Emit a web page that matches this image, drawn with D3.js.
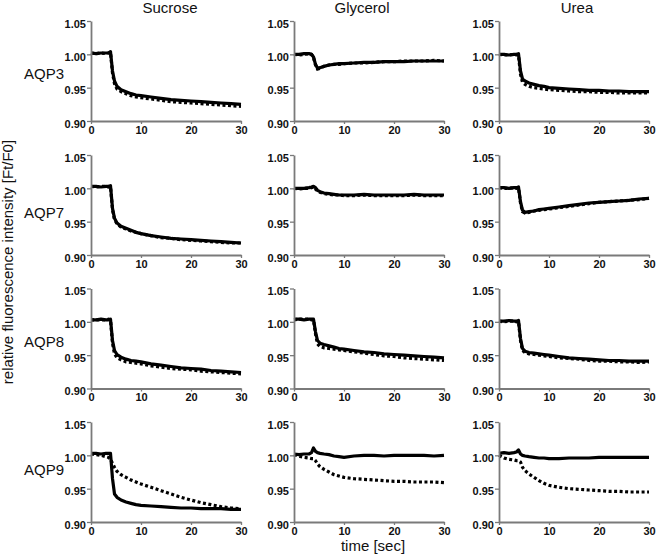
<!DOCTYPE html>
<html>
<head>
<meta charset="utf-8">
<script src="https://cdn.jsdelivr.net/npm/d3@7/dist/d3.min.js"></script>
<style>
  html, body { margin: 0; padding: 0; background: #fff; }
  svg { display: block; font-family: "Liberation Sans", Arial, sans-serif; }
</style>
</head>
<body>
<svg id="chart" width="656" height="557"></svg>
<script>
// ---------------- data ----------------
const solutes = ["Sucrose", "Glycerol", "Urea"];
const aqps = ["AQP3", "AQP7", "AQP8", "AQP9"];
const yTicks = [0.90, 0.95, 1.00, 1.05];
const xTicks = [0, 10, 20, 30];
const time = [0,1,2,3,3.5,3.9,4.3,4.7,5.2,6,7,8,9,10,12,14,16,18,20,22,24,26,28,30];

// AQP3
const aqp3SucroseSolid  = [1.002,1.001,1.002,1.002,1.002,1.004,0.975,0.960,0.952,0.947,0.944,0.941,0.939,0.938,0.936,0.934,0.932,0.931,0.930,0.929,0.928,0.927,0.926,0.925];
const aqp3SucroseDashed = [1.002,1.001,1.002,1.001,1.002,1.003,0.972,0.956,0.948,0.944,0.941,0.938,0.936,0.935,0.933,0.931,0.929,0.928,0.927,0.926,0.925,0.924,0.923,0.922];
const aqp3GlycerolSolid  = [1.000,1.000,1.001,1.001,1.000,0.996,0.985,0.979,0.980,0.982,0.984,0.985,0.986,0.986,0.987,0.988,0.988,0.989,0.989,0.989,0.990,0.990,0.990,0.990];
const aqp3GlycerolDashed = [1.000,0.999,1.000,1.001,1.000,0.995,0.984,0.978,0.979,0.982,0.984,0.985,0.985,0.986,0.987,0.987,0.988,0.989,0.989,0.990,0.990,0.990,0.991,0.990];
const aqp3UreaSolid  = [1.000,1.000,0.999,1.000,1.000,1.001,0.975,0.963,0.960,0.957,0.955,0.953,0.952,0.950,0.949,0.948,0.947,0.946,0.946,0.945,0.945,0.944,0.944,0.944];
const aqp3UreaDashed = [1.000,0.999,0.999,1.000,0.999,0.999,0.970,0.958,0.955,0.952,0.950,0.949,0.948,0.947,0.946,0.945,0.944,0.944,0.943,0.943,0.942,0.942,0.942,0.942];
// AQP7
const aqp7SucroseSolid  = [1.003,1.003,1.002,1.003,1.003,1.004,0.970,0.955,0.948,0.943,0.940,0.937,0.934,0.932,0.929,0.927,0.925,0.924,0.923,0.922,0.921,0.920,0.919,0.918];
const aqp7SucroseDashed = [1.003,1.002,1.003,1.003,1.002,1.003,0.968,0.953,0.947,0.942,0.939,0.936,0.934,0.932,0.929,0.926,0.925,0.923,0.922,0.921,0.920,0.919,0.918,0.918];
const aqp7GlycerolSolid  = [1.000,1.000,1.000,1.001,1.002,1.003,1.001,0.997,0.995,0.993,0.992,0.991,0.990,0.990,0.990,0.991,0.990,0.990,0.990,0.990,0.991,0.990,0.990,0.990];
const aqp7GlycerolDashed = [1.000,0.999,1.000,1.000,1.001,1.002,0.999,0.996,0.994,0.992,0.991,0.990,0.990,0.989,0.989,0.990,0.989,0.989,0.989,0.989,0.990,0.989,0.989,0.989];
const aqp7UreaSolid  = [1.001,1.001,1.000,1.001,1.001,1.002,0.980,0.967,0.964,0.965,0.966,0.968,0.969,0.970,0.972,0.974,0.976,0.978,0.979,0.980,0.981,0.982,0.984,0.985];
const aqp7UreaDashed = [1.001,1.000,1.000,1.001,1.000,1.001,0.978,0.965,0.963,0.964,0.966,0.967,0.968,0.969,0.971,0.973,0.975,0.977,0.979,0.980,0.981,0.982,0.983,0.985];
// AQP8
const aqp8SucroseSolid  = [1.003,1.003,1.004,1.003,1.003,1.004,0.972,0.957,0.951,0.947,0.944,0.942,0.941,0.940,0.937,0.935,0.933,0.931,0.930,0.929,0.927,0.926,0.925,0.924];
const aqp8SucroseDashed = [1.003,1.003,1.003,1.003,1.004,1.003,0.968,0.952,0.946,0.943,0.940,0.939,0.938,0.937,0.934,0.932,0.930,0.929,0.928,0.926,0.925,0.924,0.923,0.922];
const aqp8GlycerolSolid  = [1.004,1.004,1.003,1.004,1.004,1.004,0.985,0.972,0.968,0.966,0.964,0.962,0.960,0.959,0.957,0.955,0.954,0.952,0.951,0.950,0.949,0.948,0.947,0.946];
const aqp8GlycerolDashed = [1.003,1.004,1.004,1.004,1.003,1.003,0.982,0.967,0.963,0.961,0.960,0.959,0.958,0.957,0.955,0.953,0.951,0.949,0.948,0.946,0.945,0.944,0.943,0.942];
const aqp8UreaSolid  = [1.001,1.001,1.002,1.001,1.001,1.002,0.975,0.960,0.956,0.954,0.953,0.952,0.951,0.950,0.948,0.946,0.945,0.944,0.943,0.942,0.942,0.941,0.941,0.941];
const aqp8UreaDashed = [1.001,1.000,1.001,1.001,1.000,1.001,0.972,0.957,0.954,0.952,0.951,0.950,0.949,0.948,0.946,0.945,0.944,0.942,0.941,0.941,0.940,0.940,0.939,0.940];
// AQP9
const aqp9SucroseSolid  = [1.003,1.003,1.002,1.003,1.003,1.003,0.965,0.942,0.937,0.933,0.930,0.928,0.926,0.925,0.924,0.923,0.922,0.921,0.921,0.920,0.920,0.920,0.919,0.919];
const aqp9SucroseDashed = [1.002,1.001,1.000,0.998,0.997,0.994,0.988,0.982,0.976,0.971,0.967,0.963,0.960,0.957,0.952,0.947,0.942,0.937,0.933,0.929,0.926,0.923,0.921,0.920];
const aqp9GlycerolSolid  = [1.002,1.001,1.002,1.002,1.004,1.011,1.006,1.004,1.003,1.002,1.001,0.999,0.998,0.997,0.999,1.000,1.000,0.999,1.000,1.000,1.000,1.000,0.999,1.000];
const aqp9GlycerolDashed = [1.001,0.999,0.997,0.996,0.995,0.995,0.992,0.987,0.983,0.979,0.975,0.971,0.969,0.967,0.965,0.964,0.963,0.962,0.961,0.961,0.960,0.960,0.960,0.959];
const aqp9UreaSolid  = [1.003,1.004,1.003,1.004,1.005,1.008,1.002,1.000,0.999,0.998,0.997,0.996,0.996,0.995,0.995,0.996,0.996,0.996,0.997,0.997,0.997,0.997,0.997,0.997];
const aqp9UreaDashed = [1.000,0.996,0.994,0.993,0.992,0.992,0.990,0.982,0.977,0.972,0.967,0.962,0.958,0.955,0.952,0.950,0.949,0.948,0.947,0.946,0.946,0.945,0.945,0.945];

const panels = [
  [[aqp3SucroseSolid, aqp3SucroseDashed], [aqp3GlycerolSolid, aqp3GlycerolDashed], [aqp3UreaSolid, aqp3UreaDashed]],
  [[aqp7SucroseSolid, aqp7SucroseDashed], [aqp7GlycerolSolid, aqp7GlycerolDashed], [aqp7UreaSolid, aqp7UreaDashed]],
  [[aqp8SucroseSolid, aqp8SucroseDashed], [aqp8GlycerolSolid, aqp8GlycerolDashed], [aqp8UreaSolid, aqp8UreaDashed]],
  [[aqp9SucroseSolid, aqp9SucroseDashed], [aqp9GlycerolSolid, aqp9GlycerolDashed], [aqp9UreaSolid, aqp9UreaDashed]]
];

// ---------------- layout ----------------
const colX = [91, 294, 499];
const rowY = [21, 155, 288.5, 422];
const pw = 150, ph = 100;
const titleOffset = [4, -7, 3];
const rowLabelY = [79, 218, 347, 475];

const svg = d3.select("#chart");
const x = d3.scaleLinear().domain([0, 30]).range([0, pw]);
const y = d3.scaleLinear().domain([0.90, 1.05]).range([ph, 0]);
const line = d3.line().x((d, i) => x(time[i])).y(d => y(d));

const axisColor = "#7a7a7a";

panels.forEach((row, ri) => {
  row.forEach((series, ci) => {
    const g = svg.append("g").attr("transform", `translate(${colX[ci]},${rowY[ri]})`);

    // data
    g.append("path").datum(series[1])
      .attr("d", line).attr("fill", "none").attr("stroke", "#000")
      .attr("stroke-width", 3.2).attr("stroke-dasharray", "3,2.5");
    g.append("path").datum(series[0])
      .attr("d", line).attr("fill", "none").attr("stroke", "#000")
      .attr("stroke-width", 3.2).attr("stroke-linejoin", "round");

    // y axis
    const ya = g.append("g").call(
      d3.axisLeft(y).tickValues(yTicks).tickFormat(d3.format(".2f"))
        .tickSize(4).tickSizeOuter(0).tickPadding(1));
    // x axis
    const xa = g.append("g").attr("transform", `translate(0,${ph})`).call(
      d3.axisBottom(x).tickValues(xTicks).tickSize(3).tickSizeOuter(0).tickPadding(2));

    [ya, xa].forEach(a => {
      a.select(".domain").attr("stroke", axisColor).attr("stroke-width", 1.8);
      a.selectAll(".tick line").attr("stroke", axisColor).attr("stroke-width", 1.3);
      a.selectAll(".tick text").attr("fill", "#111")
        .style("font-size", "11px").style("font-weight", "bold")
        .style("font-family", "'Liberation Sans', Arial, sans-serif");
    });
    ya.selectAll(".tick text").attr("dy", "0.55em");
  });
});

// column titles
solutes.forEach((s, ci) => {
  svg.append("text").attr("x", colX[ci] + pw / 2 + titleOffset[ci]).attr("y", 13)
    .attr("text-anchor", "middle").style("font-size", "15px").attr("fill", "#111").text(s);
});

// row labels
aqps.forEach((a, ri) => {
  svg.append("text").attr("x", 24).attr("y", rowLabelY[ri])
    .style("font-size", "15px").attr("fill", "#111").text(a);
});

// axis titles
svg.append("text").attr("transform", "translate(13,262) rotate(-90)")
  .attr("text-anchor", "middle").style("font-size", "15px").attr("fill", "#111")
  .text("relative fluorescence intensity [Ft/F0]");
svg.append("text").attr("x", 373).attr("y", 551)
  .attr("text-anchor", "middle").style("font-size", "15px").attr("fill", "#111")
  .text("time [sec]");
</script>
</body>
</html>
